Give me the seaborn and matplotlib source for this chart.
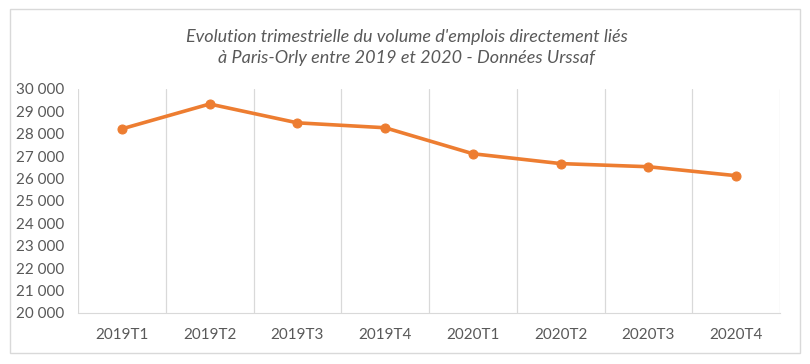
import matplotlib
matplotlib.use("Agg")
import matplotlib.pyplot as plt
import matplotlib.ticker as mticker
import seaborn as sns
import pandas as pd

# données
trimestres = ["2019T1", "2019T2", "2019T3", "2019T4", "2020T1", "2020T2", "2020T3", "2020T4"]
emplois = [28220, 29330, 28490, 28270, 27110, 26670, 26530, 26130]
titre = "Evolution trimestrielle du volume d'emplois directement liés\nà Paris-Orly entre 2019 et 2020 - Données Urssaf"

df = pd.DataFrame({"trimestre": trimestres, "emplois": emplois})

sns.set_style("white")
plt.rcParams['font.family'] = ['Lato', 'DejaVu Sans']

fig = plt.figure(figsize=(8.1, 3.64), dpi=100)
ax = fig.add_axes([78 / 810, 1 - 313 / 364, 702 / 810, 224 / 364])

sns.lineplot(data=df, x="trimestre", y="emplois", marker="o", sort=False,
             color="#ED7D31", linewidth=2.6, markersize=6.5,
             markeredgecolor="#ED7D31", ax=ax)

ax.set_xlim(-0.5, len(trimestres) - 0.5)
ax.set_ylim(20000, 30000)
ax.yaxis.set_major_locator(mticker.MultipleLocator(1000))
ax.yaxis.set_major_formatter(mticker.FuncFormatter(lambda v, p: f"{int(v):,}".replace(",", " ")))

# quadrillage vertical entre les catégories
ax.set_xticks([i + 0.5 for i in range(-1, len(trimestres))], minor=True)
ax.grid(which="minor", axis="x", color="#D9D9D9", linewidth=0.9)
ax.grid(which="major", visible=False)
ax.tick_params(axis="x", which="minor", length=5, color="#D9D9D9", width=0.9)
ax.tick_params(axis="x", which="major", length=0, pad=11)
ax.tick_params(axis="y", length=0, pad=10)
ax.tick_params(labelsize=11, labelcolor="#595959")

for s in ["top", "right", "left"]:
    ax.spines[s].set_visible(False)
ax.spines["bottom"].set_color("#D9D9D9")
ax.set_xlabel("")
ax.set_ylabel("")

fig.text(0.502, 0.92, titre, ha="center", va="top", fontsize=13, style="italic",
         color="#595959", linespacing=1.35)

# cadre du graphique
fig.patches.append(plt.Rectangle((10 / 810, 11 / 364), 790 / 810, 344 / 364, transform=fig.transFigure,
                                 fill=False, edgecolor="#D9D9D9", linewidth=1))

fig.savefig("out.png", dpi=100)
